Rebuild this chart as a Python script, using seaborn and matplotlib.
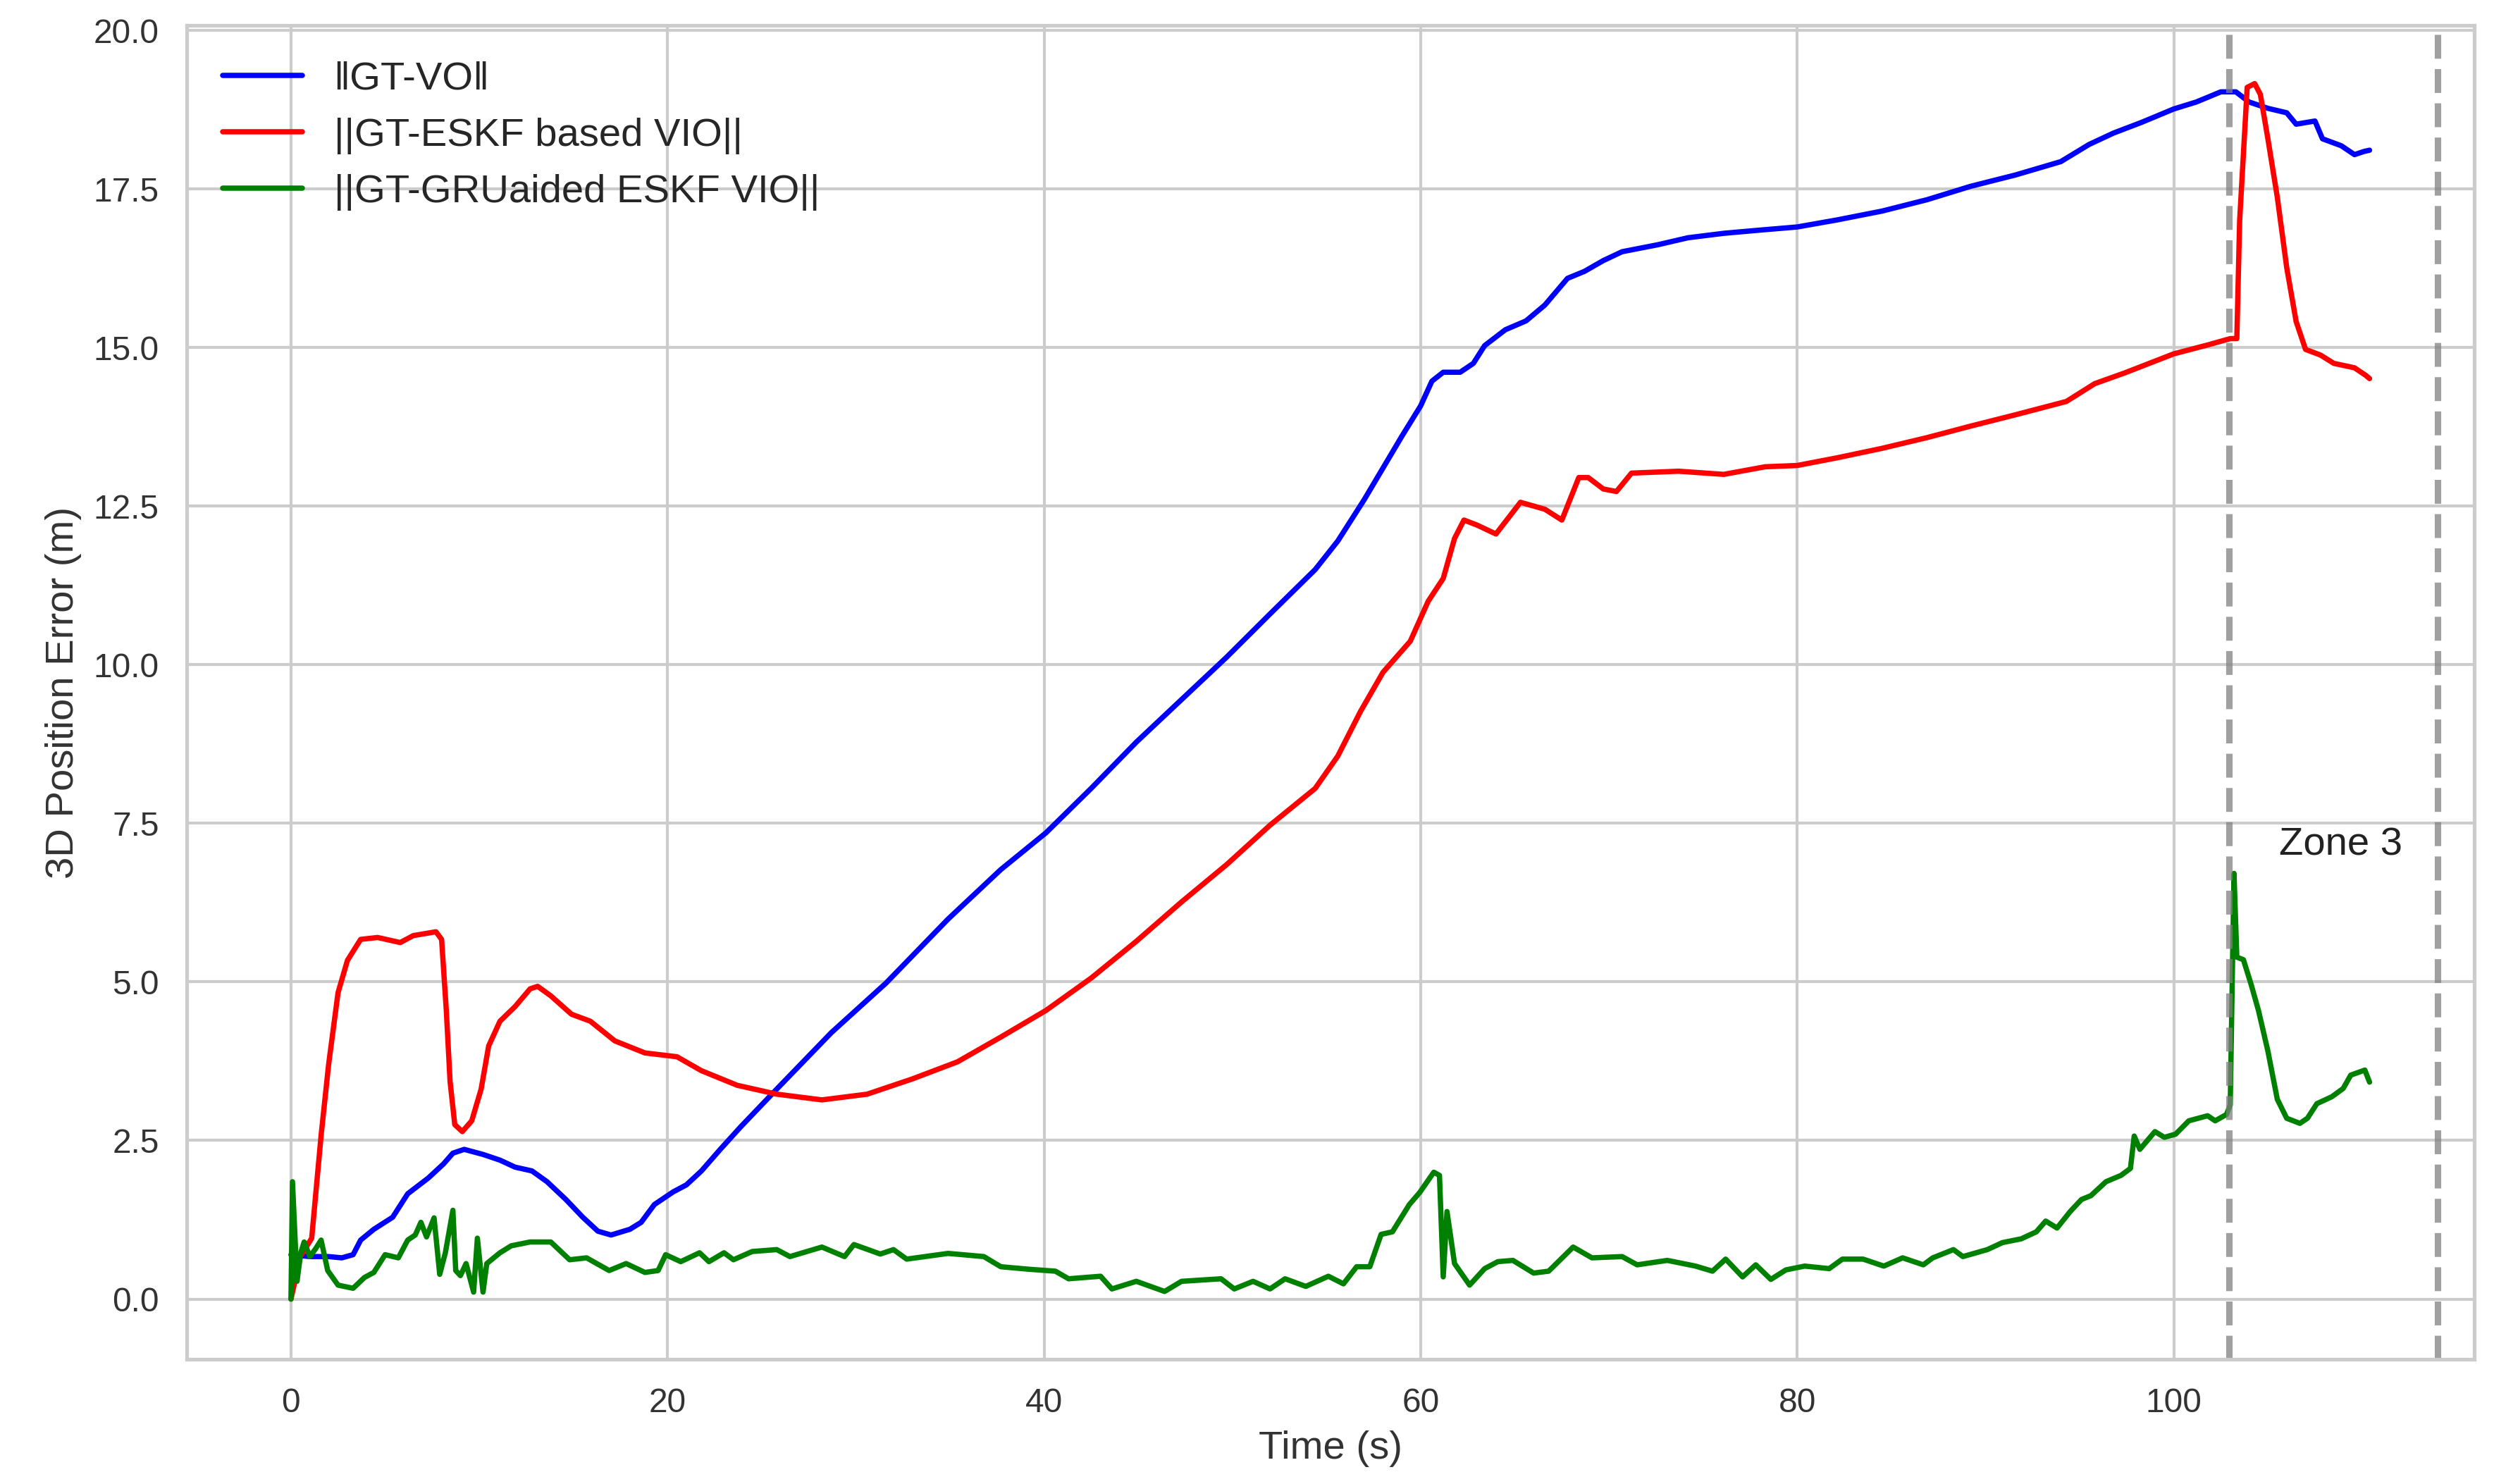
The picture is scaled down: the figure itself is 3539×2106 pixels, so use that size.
import matplotlib
matplotlib.use("Agg")
import matplotlib.pyplot as plt
import seaborn as sns

# -----------------------------
# Data
# -----------------------------
t_vo = [0.0, 1.0, 2.0, 2.7, 3.3, 3.7, 4.4, 5.4, 6.2, 7.3,
        8.1, 8.6, 9.2, 10.2, 11.1, 11.9, 12.8, 13.6, 14.6, 15.5,
        16.3, 17.0, 18.0, 18.6, 19.3, 20.3, 21.0, 21.8, 22.8, 23.9,
        25.8, 28.7, 31.6, 34.9, 37.7, 40.1, 42.5, 44.9, 47.3, 49.7,
        52.0, 54.4, 55.6, 57.0, 58.0, 59.0, 60.0, 60.6, 61.2, 62.1,
        62.8, 63.4, 64.5, 65.6, 66.6, 67.8, 68.7, 69.7, 70.7, 72.6,
        74.2, 76.1, 78.0, 80.0, 82.1, 84.5, 86.9, 89.2, 91.6, 94.0,
        95.5, 96.8, 98.3, 100.0, 101.2, 102.5, 103.3, 104.0, 105.0, 106.0,
        106.5, 107.5, 107.9, 108.9, 109.6, 110.1, 110.4]
vo = [0.70, 0.67, 0.67, 0.65, 0.70, 0.93, 1.10, 1.29, 1.66, 1.91,
      2.13, 2.30, 2.36, 2.28, 2.19, 2.08, 2.02, 1.85, 1.57, 1.29,
      1.07, 1.01, 1.10, 1.21, 1.49, 1.69, 1.80, 2.02, 2.36, 2.72,
      3.31, 4.20, 4.98, 5.99, 6.77, 7.35, 8.05, 8.78, 9.45, 10.12,
      10.80, 11.50, 11.95, 12.60, 13.10, 13.60, 14.08, 14.47, 14.61, 14.61,
      14.75, 15.03, 15.28, 15.42, 15.67, 16.09, 16.20, 16.37, 16.51, 16.62,
      16.73, 16.80, 16.85, 16.90, 17.01, 17.15, 17.33, 17.54, 17.72, 17.93,
      18.20, 18.38, 18.55, 18.76, 18.87, 19.03, 19.03, 18.87, 18.77, 18.70,
      18.52, 18.57, 18.29, 18.18, 18.04, 18.09, 18.11]

t_eskf = [0.0, 0.5, 1.1, 1.6, 2.0, 2.5, 3.0, 3.7, 4.6, 5.8,
          6.5, 7.7, 8.0, 8.25, 8.45, 8.7, 9.1, 9.6, 10.1, 10.5,
          11.1, 11.9, 12.7, 13.1, 13.8, 14.9, 15.9, 17.2, 18.8, 20.5,
          21.8, 23.7, 25.8, 28.2, 30.6, 33.0, 35.4, 37.7, 40.1, 42.5,
          44.9, 47.3, 49.7, 52.0, 54.4, 55.6, 56.8, 58.0, 59.45, 60.4,
          61.2, 61.8, 62.3, 63.0, 64.0, 65.3, 66.6, 67.5, 68.4, 68.9,
          69.7, 70.4, 71.2, 73.7, 76.1, 78.3, 80.0, 82.1, 84.5, 86.9,
          89.2, 91.6, 94.3, 95.8, 97.4, 98.7, 100.0, 101.8, 103.0, 103.35,
          103.5, 103.9, 104.3, 104.6, 105.0, 105.5, 106.0, 106.5, 107.0, 107.8,
          108.5, 109.6, 110.2, 110.4]
eskf = [0.0, 0.67, 0.96, 2.58, 3.70, 4.83, 5.34, 5.67, 5.70, 5.62,
        5.73, 5.79, 5.67, 4.55, 3.43, 2.75, 2.64, 2.81, 3.31, 3.99,
        4.38, 4.61, 4.89, 4.93, 4.78, 4.49, 4.38, 4.07, 3.88, 3.82,
        3.60, 3.37, 3.23, 3.14, 3.23, 3.47, 3.74, 4.13, 4.55, 5.06,
        5.64, 6.26, 6.85, 7.47, 8.05, 8.56, 9.26, 9.88, 10.37, 11.00,
        11.36, 11.99, 12.28, 12.20, 12.06, 12.56, 12.45, 12.28, 12.95, 12.95,
        12.77, 12.73, 13.02, 13.05, 13.00, 13.12, 13.14, 13.26, 13.41, 13.58,
        13.76, 13.94, 14.15, 14.43, 14.60, 14.75, 14.90, 15.04, 15.14, 15.14,
        17.00, 19.10, 19.16, 18.99, 18.29, 17.37, 16.26, 15.41, 14.97, 14.88,
        14.75, 14.68, 14.56, 14.51]

t_gru = [0.0, 0.08, 0.32, 0.52, 0.7, 1.0, 1.3, 1.6, 1.95, 2.5,
         3.3, 3.9, 4.4, 5.0, 5.7, 6.2, 6.6, 6.9, 7.2, 7.6,
         7.9, 8.2, 8.6, 8.75, 9.0, 9.3, 9.7, 9.9, 10.2, 10.4,
         11.1, 11.7, 12.7, 13.8, 14.8, 15.7, 16.9, 17.8, 18.8, 19.5,
         19.9, 20.7, 21.7, 22.2, 23.0, 23.5, 24.5, 25.8, 26.5, 28.2,
         29.4, 29.9, 31.3, 32.0, 32.7, 34.9, 36.8, 37.7, 39.2, 40.6,
         41.3, 43.0, 43.6, 44.9, 46.4, 47.3, 49.4, 50.1, 51.1, 52.0,
         52.8, 53.9, 55.1, 55.9, 56.6, 57.3, 57.9, 58.5, 59.4, 59.95,
         60.7, 61.0, 61.2, 61.4, 61.8, 62.6, 63.4, 64.1, 64.9, 66.0,
         66.8, 68.1, 69.1, 70.7, 71.5, 73.1, 74.6, 75.5, 76.2, 77.1,
         77.8, 78.6, 79.4, 80.4, 81.7, 82.4, 83.5, 84.6, 85.6, 86.7,
         87.2, 88.3, 88.8, 90.1, 90.9, 91.9, 92.7, 93.2, 93.8, 94.5,
         95.1, 95.6, 96.4, 97.2, 97.7, 97.9, 98.2, 99.0, 99.5, 100.1,
         100.8, 101.8, 102.2, 102.8, 103.0, 103.2, 103.35, 103.7, 104.1, 104.5,
         105.0, 105.5, 106.0, 106.7, 107.1, 107.6, 108.4, 109.0, 109.4, 110.15,
         110.4]
gru = [0.0, 1.85, 0.28, 0.73, 0.90, 0.67, 0.79, 0.93, 0.45, 0.22,
       0.17, 0.34, 0.42, 0.70, 0.65, 0.93, 1.01, 1.21, 0.98, 1.28,
       0.39, 0.73, 1.40, 0.45, 0.37, 0.56, 0.11, 0.96, 0.11, 0.56,
       0.73, 0.84, 0.90, 0.90, 0.62, 0.65, 0.45, 0.56, 0.42, 0.45,
       0.70, 0.59, 0.73, 0.59, 0.73, 0.62, 0.75, 0.78, 0.67, 0.82,
       0.67, 0.86, 0.71, 0.78, 0.63, 0.72, 0.67, 0.51, 0.47, 0.44,
       0.32, 0.36, 0.16, 0.28, 0.12, 0.28, 0.32, 0.16, 0.28, 0.16,
       0.32, 0.20, 0.36, 0.24, 0.51, 0.51, 1.02, 1.06, 1.49, 1.68,
       2.00, 1.95, 0.35, 1.38, 0.56, 0.22, 0.48, 0.59, 0.61, 0.41,
       0.44, 0.82, 0.65, 0.67, 0.54, 0.61, 0.52, 0.44, 0.63, 0.35,
       0.54, 0.31, 0.46, 0.52, 0.48, 0.63, 0.63, 0.52, 0.65, 0.54,
       0.65, 0.78, 0.67, 0.78, 0.89, 0.95, 1.06, 1.23, 1.12, 1.38,
       1.57, 1.63, 1.85, 1.95, 2.06, 2.57, 2.36, 2.64, 2.55, 2.60,
       2.81, 2.89, 2.81, 2.91, 3.06, 6.71, 5.39, 5.35, 4.97, 4.55,
       3.91, 3.15, 2.85, 2.77, 2.85, 3.08, 3.19, 3.32, 3.53, 3.61,
       3.42]

zone_lines = [102.94, 114.0]
labels = ["\u2016GT-VO\u2016", "||GT-ESKF based VIO||", "||GT-GRUaided ESKF VIO||"]

# -----------------------------
# Plot
# -----------------------------
sns.set_theme(style="whitegrid")
plt.rcParams["font.family"] = ["Liberation Sans", "DejaVu Sans"]

fig, ax = plt.subplots(figsize=(3539 / 300, 2106 / 300), dpi=300)
fig.subplots_adjust(left=0.075, right=0.992, top=0.983, bottom=0.084)

sns.lineplot(x=t_vo, y=vo, color="blue", lw=1.8, label=labels[0], ax=ax, estimator=None)
sns.lineplot(x=t_eskf, y=eskf, color="red", lw=1.8, label=labels[1], ax=ax, estimator=None)
sns.lineplot(x=t_gru, y=gru, color="green", lw=1.8, label=labels[2], ax=ax, estimator=None)

for xv in zone_lines:
    ax.axvline(xv, color="gray", alpha=0.75, linestyle="--", lw=2.2)

ax.text(105.6, 7.0, "Zone 3", fontsize=13.5, color="#222222")

ax.set_xlim(-5.52, 115.95)
ax.set_ylim(-0.95, 20.08)
ax.set_xticks([0, 20, 40, 60, 80, 100])
ax.set_yticks([0, 2.5, 5, 7.5, 10, 12.5, 15, 17.5, 20])
ax.set_yticklabels(["0.0", "2.5", "5.0", "7.5", "10.0", "12.5", "15.0", "17.5", "20.0"])
ax.tick_params(labelsize=11.5, labelcolor="#333333")

ax.set_xlabel("Time (s)", fontsize=13.5, color="#333333")
ax.set_ylabel("3D Position Error (m)", fontsize=13.5, color="#333333")
ax.legend(loc="upper left", frameon=False, fontsize=13.5)

fig.savefig("out.png", dpi=300)
